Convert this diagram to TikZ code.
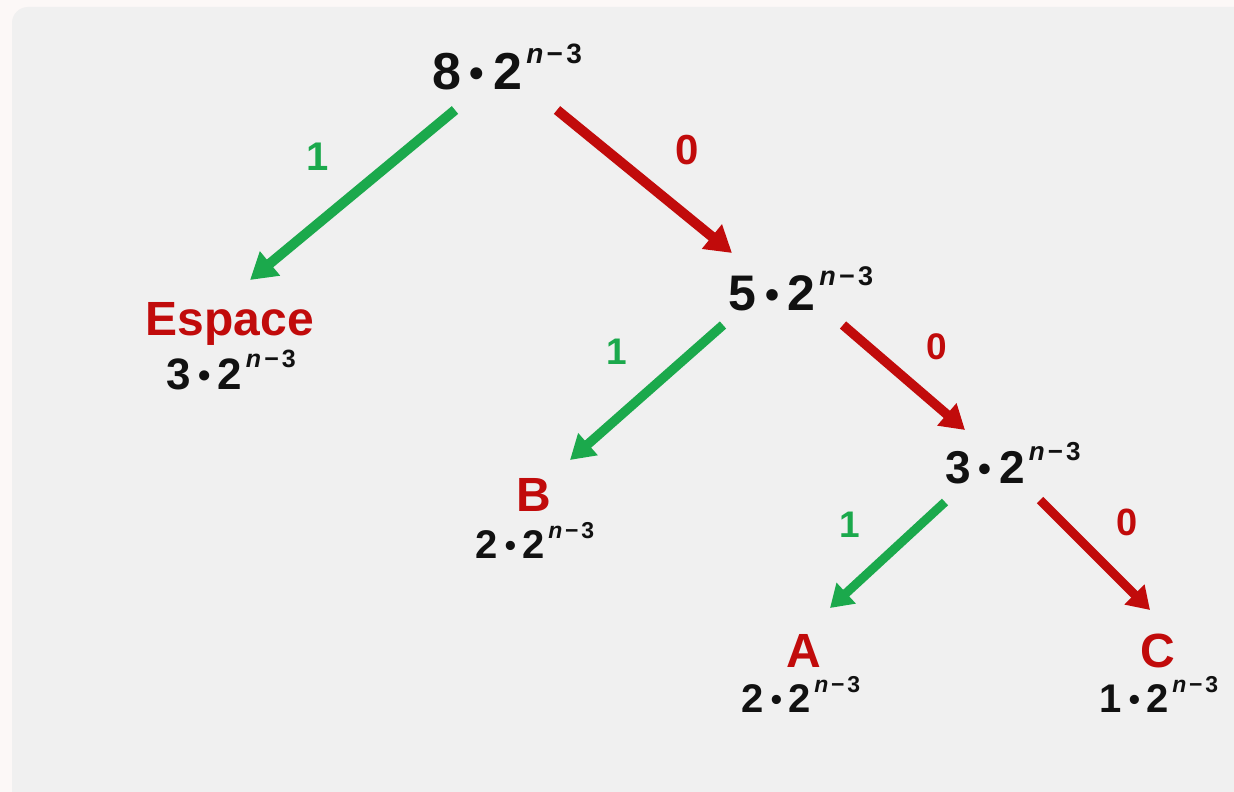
\documentclass[tikz,border=0pt]{standalone}
\usepackage{fontspec}
\setmainfont{Liberation Sans}
\usetikzlibrary{arrows.meta}
\definecolor{bgout}{HTML}{FCF8F7}
\definecolor{bgin}{HTML}{F0F0F0}
\definecolor{tgreen}{HTML}{1BA94C}
\definecolor{tred}{HTML}{C10B0B}
\definecolor{tblack}{HTML}{111111}
\newcommand{\pwr}[3]{{\fontsize{#2}{#2}\selectfont\bfseries #1\hspace{0.17em}\raisebox{0.03em}{\scalebox{0.8}{•}}\hspace{0.17em}2\hspace{0.08em}\raisebox{0.5em}{\fontsize{#3}{#3}\selectfont\bfseries\itshape n\hspace{0.12em}\upshape −\hspace{0.12em}3}}}
\begin{document}
\begin{tikzpicture}[x=1pt,y=-1pt,
  num/.style={anchor=base, inner sep=0pt, text=tblack},
  leaf/.style={anchor=base, inner sep=0pt, text=tred, font=\fontsize{48}{48}\selectfont\bfseries},
  lab/.style={anchor=center, inner sep=0pt},
  glab/.style={lab, text=tgreen},
  rlab/.style={lab, text=tred},
  big/.style={line width=10pt, -{Triangle[length=26pt,width=30pt]}},
  mid/.style={line width=9.5pt, -{Triangle[length=24pt,width=28pt]}},
  small/.style={line width=9pt, -{Triangle[length=22pt,width=27pt]}}
]
\useasboundingbox (0,0) rectangle (1234,792);
\fill[bgout] (0,0) rectangle (1234,792);
\fill[bgin, rounded corners=16pt] (12,7) rectangle (1270,830);

% value nodes
\node[num] (top) at (507,89) {\pwr{8}{52}{28}};
\node[num] (n5) at (801,310) {\pwr{5}{50}{27}};
\node[num] (n3) at (1013,483) {\pwr{3}{46}{26}};

\node[leaf] (esp) at (230,335) {Espace};
\node[num] (espv) at (231,389) {\pwr{3}{44}{25}};
\node[leaf] (b) at (534,511) {B};
\node[num] (bv) at (535,558) {\pwr{2}{40}{23}};
\node[leaf] (a) at (804,667) {A};
\node[num] (av) at (801,712) {\pwr{2}{40}{23}};
\node[leaf] (c) at (1158,667) {C};
\node[num] (cv) at (1159,712) {\pwr{1}{40}{23}};

% arrow end points
\coordinate (g1s) at (455,110); \coordinate (g1e) at (250,280);
\coordinate (r1s) at (557,110); \coordinate (r1e) at (732,253);
\coordinate (g2s) at (723,325); \coordinate (g2e) at (570,460);
\coordinate (r2s) at (843,325); \coordinate (r2e) at (965,430);
\coordinate (g3s) at (945,502); \coordinate (g3e) at (830,608);
\coordinate (r3s) at (1040,500); \coordinate (r3e) at (1150,610);

\draw[big, tgreen] (g1s) -- (g1e);
\draw[big, tred] (r1s) -- (r1e);
\draw[mid, tgreen] (g2s) -- (g2e);
\draw[mid, tred] (r2s) -- (r2e);
\draw[small, tgreen] (g3s) -- (g3e);
\draw[small, tred] (r3s) -- (r3e);

% edge labels
\node[glab, font=\fontsize{40}{40}\selectfont\bfseries] (l1) at (318,157) {1};
\node[rlab, font=\fontsize{42}{42}\selectfont\bfseries] (l2) at (687,150) {0};
\node[glab, font=\fontsize{37}{37}\selectfont\bfseries] (l3) at (617,352) {1};
\node[rlab, font=\fontsize{37}{37}\selectfont\bfseries] (l4) at (937,347) {0};
\node[glab, font=\fontsize{37}{37}\selectfont\bfseries] (l5) at (850,525) {1};
\node[rlab, font=\fontsize{38}{38}\selectfont\bfseries] (l6) at (1127,522) {0};
\end{tikzpicture}
\end{document}
